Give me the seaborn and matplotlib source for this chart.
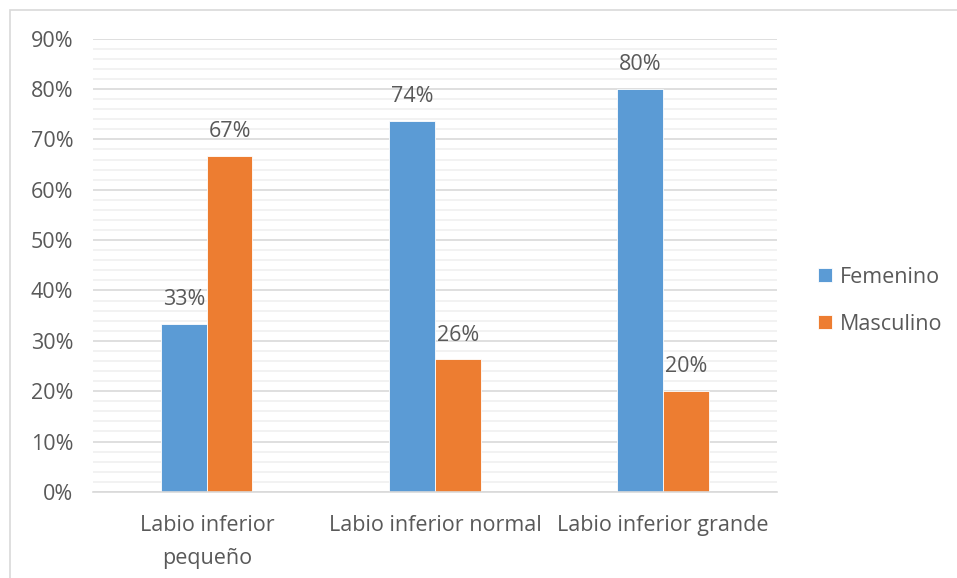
import pandas as pd
import seaborn as sns
import matplotlib.pyplot as plt
from matplotlib.patches import Rectangle
from matplotlib.ticker import MultipleLocator, PercentFormatter

# Data
categorias = ['Labio inferior\npequeño', 'Labio inferior normal', 'Labio inferior grande']
femenino = [0.333, 0.737, 0.80]
masculino = [0.667, 0.263, 0.20]
etiquetas_fem = ['33%', '74%', '80%']
etiquetas_mas = ['67%', '26%', '20%']

df = pd.DataFrame({
    'Categoria': categorias * 2,
    'Sexo': ['Femenino'] * 3 + ['Masculino'] * 3,
    'Valor': femenino + masculino,
})

sns.set_style('white')
plt.rcParams['font.family'] = ['Open Sans', 'DejaVu Sans']
texto = '#595959'
fs = 15.5

fig = plt.figure(figsize=(9.57, 5.78), dpi=100)
ax = fig.add_axes([0.097, 0.149, 0.715, 0.784])

# outer chart border (Excel style)
fig.patches.append(Rectangle((10 / 957, -0.1), 1.2, 1 - 10 / 578 + 0.1,
                             transform=fig.transFigure, fill=False,
                             edgecolor='#D9D9D9', linewidth=1.2))

sns.barplot(data=df, x='Categoria', y='Valor', hue='Sexo',
            palette=['#5B9BD5', '#ED7D31'], saturation=1, width=0.4, ax=ax,
            edgecolor='white', linewidth=0.6)

ax.set_ylim(0, 0.9)
ax.yaxis.set_major_locator(MultipleLocator(0.1))
ax.yaxis.set_minor_locator(MultipleLocator(0.02))
ax.yaxis.set_major_formatter(PercentFormatter(1.0, decimals=0))
ax.grid(True, which='major', axis='y', color='#D9D9D9', linewidth=1.2)
ax.grid(True, which='minor', axis='y', color='#F0F0F0', linewidth=1.2)
ax.set_axisbelow(True)
for s in ['top', 'right', 'left']:
    ax.spines[s].set_visible(False)
ax.spines['bottom'].set_color('#D9D9D9')
ax.spines['bottom'].set_linewidth(1.2)

ax.tick_params(axis='both', which='both', length=0, colors=texto, labelsize=fs)
ax.tick_params(axis='x', pad=17)
ax.tick_params(axis='y', pad=14)
for t in ax.get_xticklabels():
    t.set_linespacing(1.7)
ax.set_xlabel('')
ax.set_ylabel('')

for cont, labs in zip(ax.containers, [etiquetas_fem, etiquetas_mas]):
    ax.bar_label(cont, labels=labs, padding=10, color=texto, fontsize=fs)

leg = ax.legend(loc='center left', bbox_to_anchor=(1.032, 0.422), frameon=False,
                fontsize=fs, handlelength=0.65, handleheight=0.65,
                labelspacing=1.2, handletextpad=0.35)
for t in leg.get_texts():
    t.set_color(texto)

fig.savefig('out.png', dpi=100)
